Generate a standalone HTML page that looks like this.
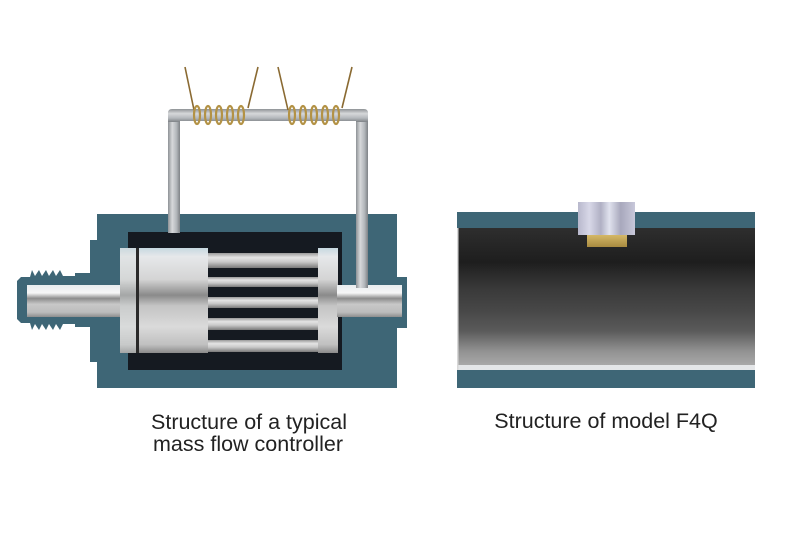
<!DOCTYPE html>
<html><head><meta charset="utf-8"><style>
html,body{margin:0;padding:0;background:#fff;}
svg{display:block;}
text{font-family:"Liberation Sans",Arial,sans-serif;fill:#222;}
</style></head><body>
<svg width="790" height="552" viewBox="0 0 790 552" xmlns="http://www.w3.org/2000/svg">
<defs>
<linearGradient id="pipe" x1="0" y1="0" x2="0" y2="1">
<stop offset="0" stop-color="#e8ecee"/><stop offset="0.25" stop-color="#f6f6f6"/><stop offset="0.42" stop-color="#8c8c8c"/><stop offset="0.6" stop-color="#c8c8c8"/><stop offset="0.85" stop-color="#bcbcbc"/><stop offset="1" stop-color="#8e8e8e"/>
</linearGradient>
<linearGradient id="cyl" x1="0" y1="0" x2="0" y2="1">
<stop offset="0" stop-color="#c6d8e0"/><stop offset="0.08" stop-color="#e6e8ea"/><stop offset="0.3" stop-color="#d4d4d4"/><stop offset="0.45" stop-color="#8a8a8a"/><stop offset="0.55" stop-color="#c4c4c4"/><stop offset="0.75" stop-color="#dadada"/><stop offset="0.92" stop-color="#c0c0c0"/><stop offset="1" stop-color="#8a8a8a"/>
</linearGradient>
<linearGradient id="rod" x1="0" y1="0" x2="0" y2="1">
<stop offset="0" stop-color="#9a9a9a"/><stop offset="0.3" stop-color="#e4e4e4"/><stop offset="0.6" stop-color="#c8c8c8"/><stop offset="1" stop-color="#7a7a7a"/>
</linearGradient>
<linearGradient id="tubeV" x1="0" y1="0" x2="1" y2="0">
<stop offset="0" stop-color="#8e9296"/><stop offset="0.35" stop-color="#d6d8da"/><stop offset="0.7" stop-color="#b4b8bc"/><stop offset="1" stop-color="#7e8286"/>
</linearGradient>
<linearGradient id="tubeH" x1="0" y1="0" x2="0" y2="1">
<stop offset="0" stop-color="#8e9296"/><stop offset="0.35" stop-color="#d6d8da"/><stop offset="0.7" stop-color="#b4b8bc"/><stop offset="1" stop-color="#7e8286"/>
</linearGradient>
<linearGradient id="inner" x1="0" y1="0" x2="0" y2="1">
<stop offset="0" stop-color="#2e2e2e"/><stop offset="0.25" stop-color="#1e1e1e"/><stop offset="0.45" stop-color="#3a3a3a"/><stop offset="0.6" stop-color="#474747"/><stop offset="0.75" stop-color="#5a5a5a"/><stop offset="0.9" stop-color="#929292"/><stop offset="1" stop-color="#a8a8a8"/>
</linearGradient>
<linearGradient id="cap" x1="0" y1="0" x2="1" y2="0">
<stop offset="0" stop-color="#b8b8cc"/><stop offset="0.2" stop-color="#d8d8e8"/><stop offset="0.4" stop-color="#b0b0c4"/><stop offset="0.55" stop-color="#e0e2ee"/><stop offset="0.75" stop-color="#a8a8bc"/><stop offset="1" stop-color="#c8c8da"/>
</linearGradient>
<linearGradient id="gold" x1="0" y1="0" x2="0" y2="1">
<stop offset="0" stop-color="#d8bc6a"/><stop offset="1" stop-color="#a88a40"/>
</linearGradient>
</defs>

<!-- LEFT FIGURE: teal body -->
<g fill="#3e6676">
<rect x="97" y="214" width="300" height="174"/>
<rect x="93" y="240" width="6" height="122"/>
<rect x="392" y="277" width="15" height="51"/>
<polygon points="17,281 21,277 30,277 32,270 35,276 39,270 42,276 46,270 49,276 53,270 56,276 60,270 63,276 68,276 75,276 75,273 90,273 90,240 95,240 95,362 90,362 90,327 75,327 75,324 68,324 63,324 60,330 56,324 53,330 49,324 46,330 42,324 39,330 35,324 32,330 30,323 21,323 17,319"/>
</g>
<!-- black chamber -->
<rect x="128" y="232" width="214" height="138" fill="#151a21"/>
<!-- left pipe -->
<rect x="27" y="285" width="95" height="32" fill="url(#pipe)"/>
<!-- cylinder -->
<rect x="120" y="248" width="88" height="105" fill="url(#cyl)"/>
<rect x="120" y="248" width="17" height="105" fill="#d8dcde" opacity="0.35"/>
<rect x="136" y="248" width="3" height="105" fill="#2a2a2a"/>
<!-- rods -->
<g fill="url(#rod)">
<rect x="208" y="253" width="110" height="15"/>
<rect x="208" y="277" width="110" height="10"/>
<rect x="208" y="297" width="110" height="11"/>
<rect x="208" y="318" width="110" height="12"/>
<rect x="208" y="340" width="110" height="12"/>
</g>
<!-- right disk -->
<rect x="318" y="248" width="20" height="105" fill="url(#cyl)"/>
<!-- right pipe -->
<rect x="337" y="285" width="65" height="32" fill="url(#pipe)"/>
<!-- bypass tube -->
<rect x="168" y="114" width="12" height="119" fill="url(#tubeV)"/>
<rect x="356" y="114" width="12" height="174" fill="url(#tubeV)"/>
<path d="M168,122 L168,113 Q168,109 172,109 L364,109 Q368,109 368,113 L368,122 L356,122 L356,121 L180,121 L180,122 Z" fill="url(#tubeH)"/>
<!-- coil leads -->
<g stroke="#8a6a32" stroke-width="1.6" fill="none">
<line x1="185" y1="67" x2="194" y2="110"/>
<line x1="258" y1="67" x2="248" y2="108"/>
<line x1="278" y1="67" x2="288" y2="110"/>
<line x1="352" y1="67" x2="342" y2="108"/>
</g>
<!-- coils -->
<g fill="none" stroke="#b39245" stroke-width="2.2">
<ellipse cx="197" cy="115" rx="3" ry="9"/>
<ellipse cx="208" cy="115" rx="3" ry="9"/>
<ellipse cx="219" cy="115" rx="3" ry="9"/>
<ellipse cx="230" cy="115" rx="3" ry="9"/>
<ellipse cx="241" cy="115" rx="3" ry="9"/>
<ellipse cx="292" cy="115" rx="3" ry="9"/>
<ellipse cx="303" cy="115" rx="3" ry="9"/>
<ellipse cx="314" cy="115" rx="3" ry="9"/>
<ellipse cx="325" cy="115" rx="3" ry="9"/>
<ellipse cx="336" cy="115" rx="3" ry="9"/>
</g>

<!-- RIGHT FIGURE -->
<rect x="457" y="212" width="298" height="16" fill="#3e6676"/>
<rect x="457" y="228" width="298" height="137" fill="url(#inner)"/>
<rect x="457" y="365" width="298" height="5" fill="#e4e6e8"/>
<rect x="457" y="370" width="298" height="18" fill="#3e6676"/>
<rect x="457" y="228" width="1.5" height="142" fill="#d8d8d8"/>
<rect x="587" y="234" width="40" height="13" fill="url(#gold)"/>
<rect x="578" y="202" width="57" height="33" fill="url(#cap)"/>

<!-- captions -->
<text x="249" y="429" font-size="21.5" text-anchor="middle">Structure of a typical</text>
<text x="248" y="451" font-size="21.5" text-anchor="middle">mass flow controller</text>
<text x="606" y="428" font-size="21.5" text-anchor="middle">Structure of model F4Q</text>
</svg>
</body></html>
